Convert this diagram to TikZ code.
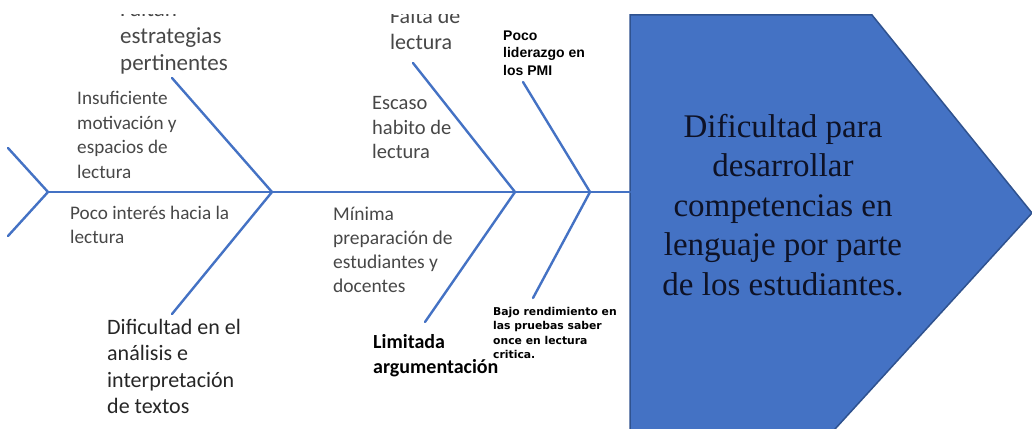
\documentclass[tikz,border=0pt]{standalone}
\usepackage{fontspec}
\setmainfont{Carlito}
\newfontfamily\serifbox{Liberation Serif}
\newfontfamily\arialbox{Liberation Sans}
\newfontfamily\verdbox{DejaVu Sans}
\usepackage{tikz}
\usetikzlibrary{arrows}
\usetikzlibrary{positioning}
\definecolor{bone}{HTML}{4472C4}
\definecolor{boneedge}{HTML}{2F528F}
\definecolor{greytext}{HTML}{474747}
\definecolor{darktext}{HTML}{262626}
\definecolor{headtext}{HTML}{0E1226}
\tikzset{cause/.style={anchor=north west, inner sep=0pt, align=left, text=greytext}}

\begin{document}
\begin{tikzpicture}[x=1pt, y=-1pt,
      bone/.style={draw=bone, line width=2.4pt, line cap=round},
      big/.style={cause, font=\fontsize{23}{27}\selectfont},
      mid/.style={cause, font=\fontsize{20.5}{24.5}\selectfont},
      small/.style={cause, font=\fontsize{19.2}{24.5}\selectfont},
      note/.style={cause, text=black, font=\arialbox\bfseries\fontsize{14}{17.5}\selectfont},
      tiny/.style={cause, text=black, font=\verdbox\bfseries\fontsize{10.8}{14.5}\selectfont},
      effect/.style={inner sep=0pt, align=center, text=headtext,
        font=\serifbox\fontsize{33}{39.5}\selectfont}]

    \useasboundingbox (0,0) rectangle (1032,428);
    \clip (0,0) rectangle (1032,428);

    \filldraw[fill=bone, draw=boneedge, line width=1.5pt]
      (630,15) -- (872,15) -- (1032,213) -- (825,440) -- (630,440) -- cycle;
    \node[effect]
      (Effect) at (783,205) {Dificultad para\\desarrollar\\competencias en\\lenguaje por parte\\de los estudiantes.};

    \coordinate (Head) at (630,192);
    \coordinate (Tail) at (48,192);
    \coordinate (TailUp) at (8,148);
    \coordinate (TailDown) at (8,236);
    \coordinate (JointA) at (272,192);
    \coordinate (JointAUp) at (172,78);
    \coordinate (JointADown) at (172,314);
    \coordinate (JointB) at (515,192);
    \coordinate (JointBUp) at (413,63);
    \coordinate (JointBDown) at (425,322);
    \coordinate (JointC) at (590,192);
    \coordinate (JointCUp) at (523,82);
    \coordinate (JointCDown) at (533,298);

    \path[bone]
      (Tail) edge (Head)
      (TailUp) edge (Tail)
      (TailDown) edge (Tail)
      (JointAUp) edge (JointA)
      (JointADown) edge (JointA)
      (JointBUp) edge (JointB)
      (JointBDown) edge (JointB)
      (JointCUp) edge (JointC)
      (JointCDown) edge (JointC);

    \begin{scope}
      \clip (0,15) rectangle (630,428);
      \node[big]
        (Estrategias) at (120,0.5) {Faltan\\estrategias\\pertinentes};
      \node[big, font=\fontsize{22}{26}\selectfont]
        (FaltaLectura) at (390,8.5) {Falta de\\lectura};
    \end{scope}

    \node[small]
      (Motivacion) at (77,91.5) {Insuficiente\\motivación y\\espacios de\\lectura};
    \node[small]
      (Interes) at (70,205.5) {Poco interés hacia la\\lectura};
    \node[big, text=darktext, font=\fontsize{22}{26.5}\selectfont]
      (Analisis) at (107,319) {Dificultad en el\\análisis e\\interpretación\\de textos};
    \node[mid]
      (Habito) at (372,96.6) {Escaso\\habito de\\lectura};
    \node[small, font=\fontsize{19.5}{24}\selectfont]
      (Preparacion) at (333,207) {Mínima\\preparación de\\estudiantes y\\docentes};
    \node[cause, text=black, font=\bfseries\fontsize{20}{25}\selectfont]
      (Argumentacion) at (373,334) {Limitada\\argumentación};
    \node[note]
      (Liderazgo) at (503,30.5) {Poco\\liderazgo en\\los PMI};
    \node[tiny]
      (Rendimiento) at (493,306.8) {Bajo rendimiento en\\las pruebas saber\\once en lectura\\critica.};

  \end{tikzpicture}
\end{document}
